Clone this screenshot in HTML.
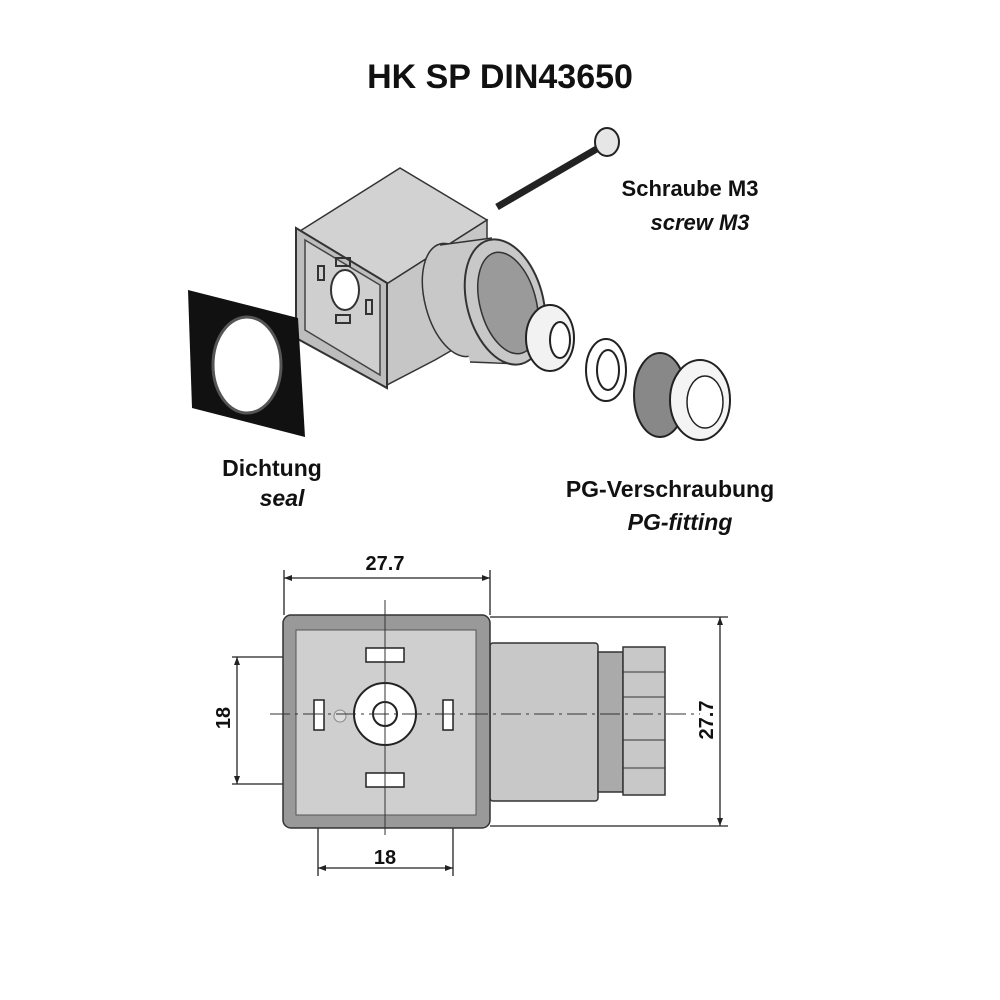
<!DOCTYPE html>
<html><head><meta charset="utf-8"><style>
html,body{margin:0;padding:0;background:#fff}
svg{display:block}
text{font-family:"Liberation Sans",Arial,sans-serif;font-weight:bold;fill:#111}
</style></head><body>
<svg width="1000" height="1000" viewBox="0 0 1000 1000">
<text x="500" y="88" font-size="34" text-anchor="middle">HK SP DIN43650</text>

<!-- screw -->
<line x1="497" y1="207" x2="600" y2="147" stroke="#222" stroke-width="7"/>
<ellipse cx="607" cy="142" rx="12" ry="14" fill="#e6e6e6" stroke="#222" stroke-width="2"/>
<!-- connector body -->
<polygon points="300,231 400,168 487,220 385,285" fill="#d2d2d2" stroke="#333" stroke-width="1.5"/>
<polygon points="385,285 487,220 487,330 435,360 385,386" fill="#c6c6c6" stroke="#333" stroke-width="1.5"/>
<!-- tube -->
<ellipse cx="455" cy="300" rx="30" ry="58" transform="rotate(-15 455 300)" fill="#c8c8c8" stroke="#333" stroke-width="1.5"/>
<polygon points="440,245 490,238 525,362 470,362" fill="#c8c8c8"/>
<line x1="440" y1="245" x2="492" y2="238" stroke="#333" stroke-width="1.5"/>
<line x1="470" y1="362" x2="522" y2="364" stroke="#333" stroke-width="1.5"/>
<ellipse cx="505" cy="302" rx="38" ry="64" transform="rotate(-15 505 302)" fill="#c8c8c8" stroke="#333" stroke-width="2"/>
<ellipse cx="508" cy="303" rx="28" ry="52" transform="rotate(-15 508 303)" fill="#9a9a9a" stroke="#333" stroke-width="1.5"/>
<!-- front face -->
<polygon points="296,228 387,283 387,388 296,338" fill="#bdbdbd" stroke="#333" stroke-width="2"/>
<polygon points="305,240 380,285 380,375 305,330" fill="#cfcfcf" stroke="#444" stroke-width="1.5"/>
<ellipse cx="345" cy="290" rx="14" ry="20" fill="#fff" stroke="#333" stroke-width="2"/>
<rect x="336" y="258" width="14" height="8" fill="none" stroke="#333" stroke-width="2"/>
<rect x="318" y="266" width="6" height="14" fill="none" stroke="#333" stroke-width="2"/>
<rect x="366" y="300" width="6" height="14" fill="none" stroke="#333" stroke-width="2"/>
<rect x="336" y="315" width="14" height="8" fill="none" stroke="#333" stroke-width="2"/>
<!-- seal -->
<polygon points="188,290 298,318 305,437 192,408" fill="#111"/>
<ellipse cx="247" cy="365" rx="34" ry="48" fill="#fff" stroke="#555" stroke-width="3"/>
<!-- washers -->
<ellipse cx="550" cy="338" rx="24" ry="33" fill="#f2f2f2" stroke="#222" stroke-width="2"/>
<ellipse cx="560" cy="340" rx="10" ry="18" fill="#fff" stroke="#222" stroke-width="2"/>
<ellipse cx="606" cy="370" rx="20" ry="31" fill="#fff" stroke="#222" stroke-width="2"/>
<ellipse cx="608" cy="370" rx="11" ry="20" fill="#fff" stroke="#222" stroke-width="2"/>
<!-- nut -->
<ellipse cx="660" cy="395" rx="26" ry="42" fill="#888" stroke="#222" stroke-width="2"/>
<ellipse cx="700" cy="400" rx="30" ry="40" fill="#f4f4f4" stroke="#222" stroke-width="2"/>
<ellipse cx="705" cy="402" rx="18" ry="26" fill="#fff" stroke="#222" stroke-width="1.5"/>

<text x="690" y="196" font-size="22" text-anchor="middle">Schraube M3</text>
<text x="700" y="230" font-size="22" text-anchor="middle" font-style="italic">screw M3</text>
<text x="272" y="476" font-size="23" text-anchor="middle">Dichtung</text>
<text x="282" y="506" font-size="23" text-anchor="middle" font-style="italic">seal</text>
<text x="670" y="497" font-size="23" text-anchor="middle">PG-Verschraubung</text>
<text x="680" y="530" font-size="23" text-anchor="middle" font-style="italic">PG-fitting</text>

<!-- bottom drawing -->
<g stroke="#222" stroke-width="1.3" fill="none">
<line x1="284" y1="578" x2="490" y2="578"/>
<line x1="284" y1="570" x2="284" y2="615"/>
<line x1="490" y1="570" x2="490" y2="615"/>
<line x1="490" y1="617" x2="728" y2="617"/>
<line x1="490" y1="826" x2="728" y2="826"/>
<line x1="720" y1="617" x2="720" y2="826"/>
<line x1="237" y1="657" x2="237" y2="784"/>
<line x1="232" y1="657" x2="285" y2="657"/>
<line x1="232" y1="784" x2="285" y2="784"/>
<line x1="318" y1="868" x2="453" y2="868"/>
<line x1="318" y1="690" x2="318" y2="876"/>
<line x1="453" y1="690" x2="453" y2="876"/>
</g>
<path d="M284,578 l8,-3 v6z M490,578 l-8,-3 v6z M720,617 l-3,8 h6z M720,826 l-3,-8 h6z M237,657 l-3,8 h6z M237,784 l-3,-8 h6z M318,868 l8,-3 v6z M453,868 l-8,-3 v6z" fill="#222"/>
<rect x="490" y="643" width="108" height="158" rx="3" fill="#c8c8c8" stroke="#333" stroke-width="1.5"/>
<rect x="598" y="652" width="25" height="140" fill="#aaa" stroke="#333" stroke-width="1.5"/>
<rect x="623" y="647" width="42" height="148" fill="#c8c8c8" stroke="#333" stroke-width="1.5"/>
<line x1="623" y1="672" x2="665" y2="672" stroke="#333"/>
<line x1="623" y1="697" x2="665" y2="697" stroke="#333"/>
<line x1="623" y1="740" x2="665" y2="740" stroke="#333"/>
<line x1="623" y1="768" x2="665" y2="768" stroke="#333"/>
<rect x="283" y="615" width="207" height="213" rx="8" fill="#999" stroke="#333" stroke-width="1.5"/>
<rect x="296" y="630" width="180" height="185" fill="#cfcfcf" stroke="#555" stroke-width="1"/>
<circle cx="385" cy="714" r="31" fill="#fff" stroke="#222" stroke-width="2"/>
<circle cx="385" cy="714" r="12" fill="#fff" stroke="#222" stroke-width="2"/>
<circle cx="340" cy="716" r="6" fill="#ddd" stroke="#888"/>
<g fill="#fff" stroke="#222" stroke-width="1.5">
<rect x="366" y="648" width="38" height="14"/>
<rect x="366" y="773" width="38" height="14"/>
<rect x="314" y="700" width="10" height="30"/>
<rect x="443" y="700" width="10" height="30"/>
</g>
<line x1="270" y1="714" x2="700" y2="714" stroke="#333" stroke-width="1" stroke-dasharray="20,5,3,5"/>
<line x1="385" y1="600" x2="385" y2="835" stroke="#333" stroke-width="1"/>
<text x="385" y="570" font-size="20" text-anchor="middle">27.7</text>
<text x="385" y="864" font-size="20" text-anchor="middle">18</text>
<text transform="translate(230,718) rotate(-90)" font-size="20" text-anchor="middle">18</text>
<text transform="translate(713,720) rotate(-90)" font-size="20" text-anchor="middle">27.7</text>
</svg>
</body></html>
